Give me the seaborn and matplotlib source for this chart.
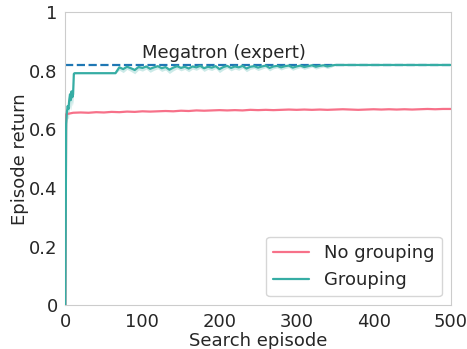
import numpy as np
import pandas as pd
import matplotlib
matplotlib.use("Agg")
import matplotlib.pyplot as plt
import seaborn as sns

# ---- data ----
no_group_ep = [0, 1] + list(range(10, 501, 10))
no_group_ret = [0, 0.652,
                0.657, 0.658, 0.657, 0.659, 0.658, 0.660, 0.659, 0.661, 0.660, 0.662,
                0.661, 0.662, 0.663, 0.662, 0.664, 0.663, 0.665, 0.664, 0.665, 0.666,
                0.665, 0.666, 0.665, 0.667, 0.666, 0.667, 0.666, 0.667, 0.668, 0.667,
                0.668, 0.667, 0.668, 0.667, 0.668, 0.669, 0.668, 0.667, 0.668, 0.669,
                0.668, 0.669, 0.668, 0.669, 0.668, 0.669, 0.670, 0.669, 0.670, 0.670]

group_ep = ([0, 1, 2, 3, 4, 5, 6, 7, 8, 9, 10, 11, 12, 20, 30, 40, 50, 60, 65]
            + list(range(70, 346, 5)) + [350, 400, 450, 500])
group_ret = [0, 0.62, 0.66, 0.68, 0.67, 0.70, 0.72, 0.70, 0.73, 0.71, 0.72, 0.79, 0.792,
             0.792, 0.792, 0.792, 0.792, 0.792, 0.792,
             0.812, 0.806, 0.814, 0.809, 0.803, 0.813, 0.810, 0.815, 0.807, 0.812,
             0.816, 0.809, 0.813, 0.804, 0.811, 0.816, 0.810, 0.814, 0.808, 0.815,
             0.812, 0.817, 0.809, 0.814, 0.811, 0.816, 0.806, 0.813, 0.817, 0.810,
             0.815, 0.812, 0.817, 0.808, 0.814, 0.816, 0.811, 0.815, 0.818, 0.810,
             0.815, 0.817, 0.812, 0.816, 0.818, 0.811, 0.815, 0.818, 0.813, 0.816,
             0.819, 0.814, 0.817, 0.819, 0.815, 0.818,
             0.820, 0.820, 0.820, 0.820]
# half-width of the shaded band around the Grouping curve
group_spread = [0, 0.04, 0.04, 0.04, 0.035, 0.04, 0.04, 0.035, 0.035, 0.03, 0.025, 0.006, 0.002,
                0.001, 0.001, 0.001, 0.001, 0.001, 0.001,
                0.010, 0.012, 0.009, 0.011, 0.013, 0.010, 0.011, 0.009, 0.012, 0.010,
                0.009, 0.011, 0.010, 0.013, 0.011, 0.009, 0.010, 0.009, 0.011, 0.009,
                0.010, 0.008, 0.011, 0.009, 0.010, 0.008, 0.012, 0.010, 0.008, 0.010,
                0.009, 0.010, 0.008, 0.011, 0.009, 0.008, 0.010, 0.009, 0.007, 0.010,
                0.008, 0.007, 0.009, 0.008, 0.007, 0.009, 0.008, 0.007, 0.008, 0.007,
                0.006, 0.008, 0.007, 0.006, 0.007, 0.006,
                0.0, 0.0, 0.0, 0.0]

expert_ret = 0.82
expert_label = "Megatron (expert)"

df = pd.concat([
    pd.DataFrame({"episode": no_group_ep, "ret": no_group_ret, "method": "No grouping"}),
    pd.DataFrame({"episode": group_ep, "ret": group_ret, "method": "Grouping"}),
])

# ---- plot ----
sns.set_style("whitegrid")
plt.rcParams["font.family"] = ["DejaVu Sans"]
plt.rcParams["axes.grid"] = False

palette = sns.color_palette("husl", 2)

fig, ax = plt.subplots(figsize=(4.67, 3.49), dpi=100)

ax.axhline(expert_ret, color="#1f77b4", ls="--", lw=1.6, zorder=1)
ax.text(100, 0.845, expert_label, fontsize=13, color="#262626")

sns.lineplot(data=df, x="episode", y="ret", hue="method", palette=palette,
             lw=1.6, ax=ax, zorder=3)

g = np.array(group_ret)
s = np.array(group_spread)
ax.fill_between(group_ep, g - s, g + s * 0.3, color=palette[1], alpha=0.25, lw=0, zorder=2)

ax.set_xlim(0, 500)
ax.set_ylim(0, 1)
ax.set_yticks([0, 0.2, 0.4, 0.6, 0.8, 1])
ax.set_yticklabels(["0", "0.2", "0.4", "0.6", "0.8", "1"])
ax.tick_params(labelsize=13, pad=2)
ax.set_xlabel("Search episode", fontsize=13, labelpad=1)
ax.set_ylabel("Episode return", fontsize=13, labelpad=0)
ax.legend(loc="lower right", fontsize=13, title=None)

fig.subplots_adjust(left=0.14, right=0.965, top=0.965, bottom=0.125)
fig.savefig("out.png", dpi=100)
